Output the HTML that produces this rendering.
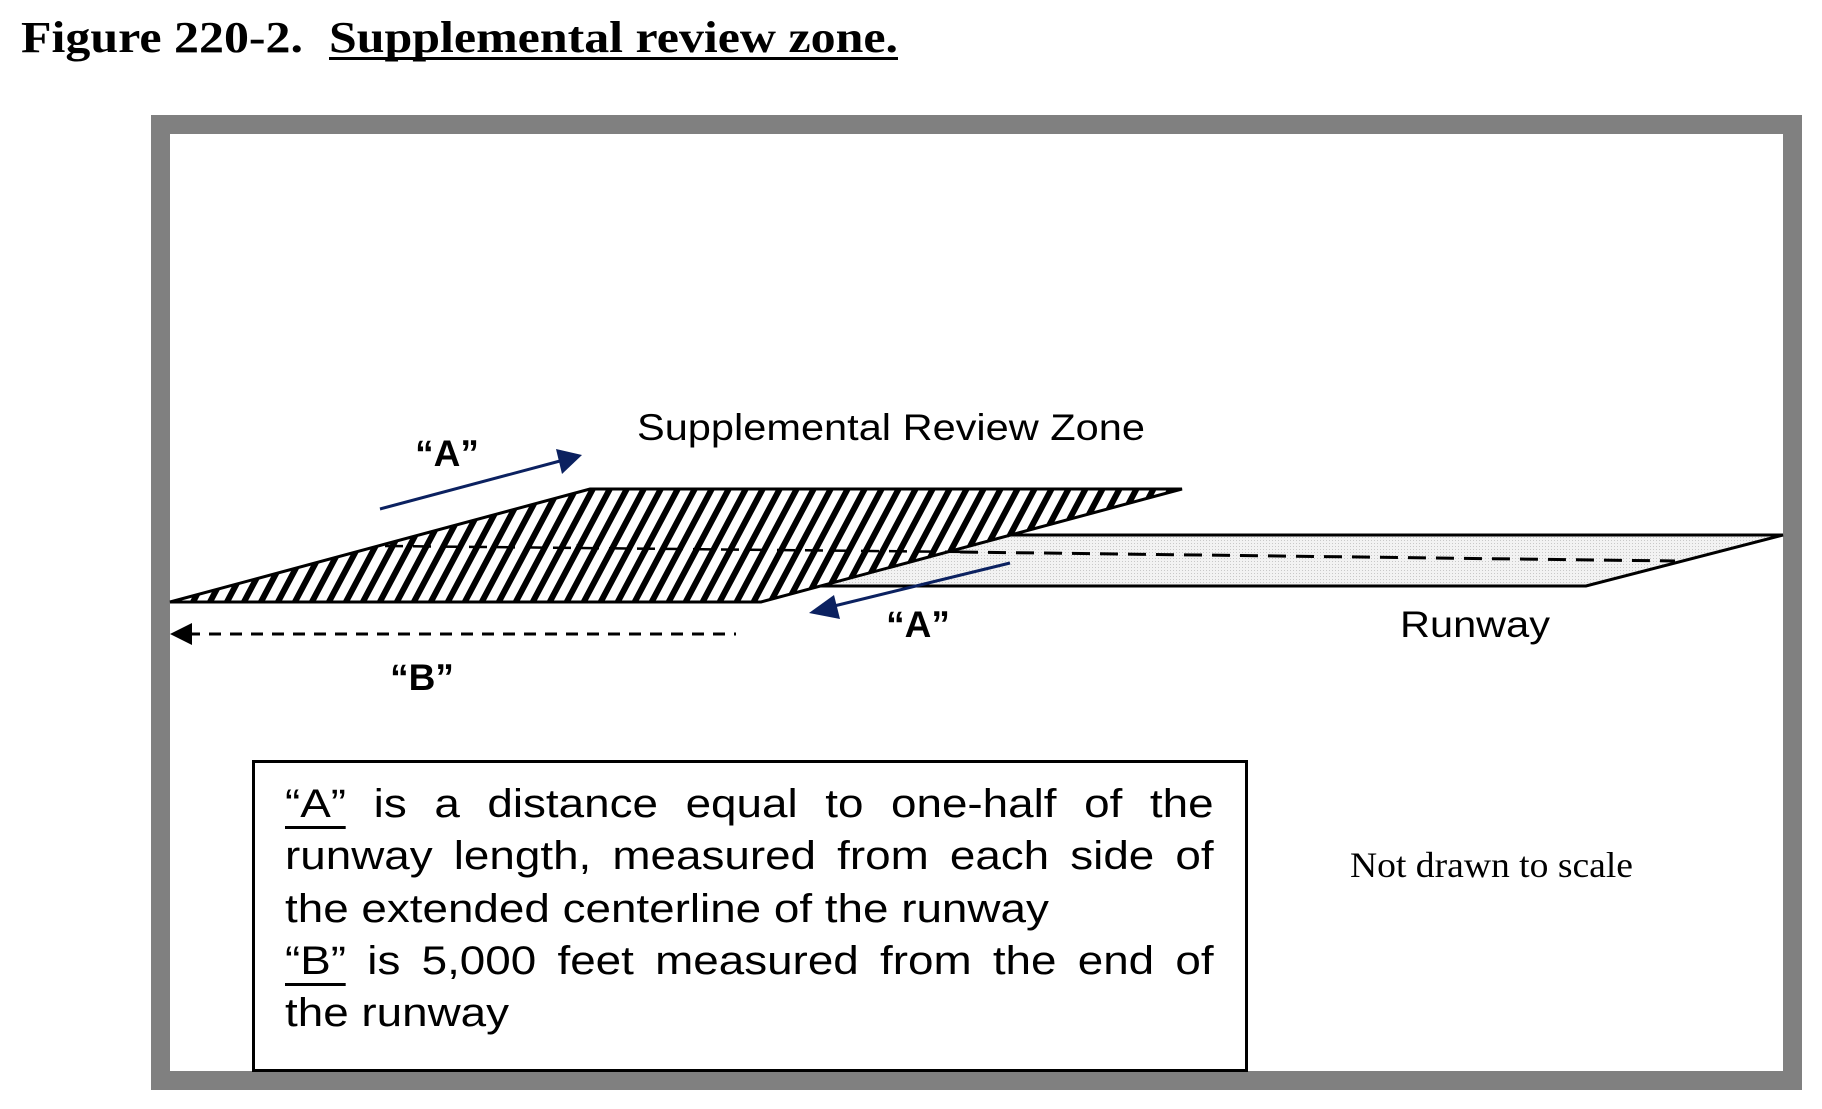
<!DOCTYPE html>
<html><head><meta charset="utf-8"><style>
html,body{margin:0;padding:0;background:#fff;}
svg{display:block;}
#box{position:absolute;left:285px;top:778px;width:811px;transform:scaleX(1.145);transform-origin:0 0;font-family:"Liberation Sans",sans-serif;font-size:40px;line-height:52.3px;white-space:nowrap;}
#box div.j{text-align:justify;text-align-last:justify;white-space:normal;}
#box u{text-decoration:none;border-bottom:3px solid #000;}
</style></head><body>
<svg width="1822" height="1109" viewBox="0 0 1822 1109" xmlns="http://www.w3.org/2000/svg" style="position:absolute;left:0;top:0">
<defs>
<pattern id="hatch" width="15" height="15" patternUnits="userSpaceOnUse" patternTransform="rotate(28)">
<rect width="15" height="15" fill="#fff"/>
<rect x="0" y="0" width="6" height="15" fill="#000"/>
</pattern>
<pattern id="dots" width="3" height="3" patternUnits="userSpaceOnUse">
<rect width="3" height="3" fill="#f2f2f2"/>
<rect width="1" height="1" fill="#c8c8c8"/>
</pattern>
</defs>
<text x="21" y="52" font-family="Liberation Serif, serif" font-weight="bold" font-size="44" textLength="282" lengthAdjust="spacingAndGlyphs">Figure 220-2.</text>
<text x="329" y="52" font-family="Liberation Serif, serif" font-weight="bold" font-size="44" textLength="569" lengthAdjust="spacingAndGlyphs">Supplemental review zone.</text>
<rect x="329" y="57" width="569" height="3" fill="#000"/>
<rect x="160.5" y="124.5" width="1632" height="956" fill="none" stroke="#808080" stroke-width="19"/>
<polygon points="720,586 960,535 1783,535 1586,586" fill="url(#dots)" stroke="#000" stroke-width="3"/>
<line x1="960" y1="552" x2="1675" y2="561" stroke="#000" stroke-width="3" stroke-dasharray="18,10"/>
<polygon points="170,602 590,489 1182,489 761,602" fill="url(#hatch)" stroke="#000" stroke-width="3"/>
<line x1="385" y1="546" x2="970" y2="552" stroke="#000" stroke-width="2.5" stroke-dasharray="18,10"/>
<line x1="380" y1="509" x2="560" y2="461" stroke="#0b2160" stroke-width="3"/>
<polygon points="582,455 556,449 562,474" fill="#0b2160"/>
<line x1="1010" y1="563" x2="830" y2="607" stroke="#0b2160" stroke-width="3"/>
<polygon points="809,613 834,595 840,619" fill="#0b2160"/>
<line x1="188" y1="634" x2="736" y2="634" stroke="#000" stroke-width="3" stroke-dasharray="12,9"/>
<polygon points="170,634 192,623 192,645" fill="#000"/>
<g font-family="Liberation Sans, sans-serif" font-weight="bold" font-size="37" text-anchor="middle">
<text x="447" y="466">“A”</text>
<text x="918" y="637">“A”</text>
<text x="422" y="690">“B”</text>
</g>
<g font-family="Liberation Sans, sans-serif" font-size="37">
<text x="637" y="440" textLength="508" lengthAdjust="spacingAndGlyphs">Supplemental Review Zone</text>
<text x="1400" y="637" textLength="150" lengthAdjust="spacingAndGlyphs">Runway</text>
</g>
<rect x="253.5" y="761.5" width="993" height="309" fill="#fff" stroke="#000" stroke-width="3"/>
<text x="1350" y="877" font-family="Liberation Serif, serif" font-size="36" textLength="283" lengthAdjust="spacingAndGlyphs">Not drawn to scale</text>
</svg>
<div id="box">
<div class="j"><u>“A”</u> is a distance equal to one-half of the</div>
<div class="j">runway length, measured from each side of</div>
<div>the extended centerline of the runway</div>
<div class="j"><u>“B”</u> is 5,000 feet measured from the end of</div>
<div>the runway</div>
</div>
</body></html>
